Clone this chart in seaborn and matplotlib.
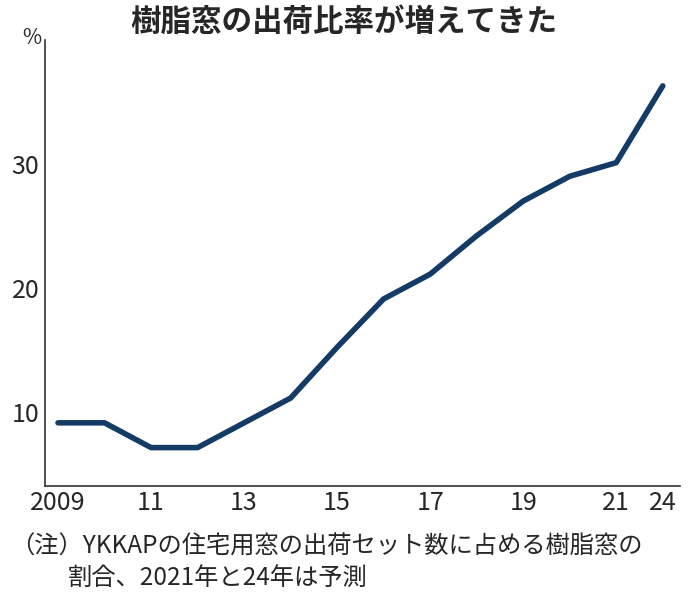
import matplotlib
matplotlib.use("Agg")
import matplotlib.pyplot as plt
import seaborn as sns
import pandas as pd

years = ["2009","2010","2011","2012","2013","2014","2015","2016","2017","2018","2019","2020","2021","24"]
share = [9.1, 9.1, 7.1, 7.1, 9.1, 11.1, 15.2, 19.1, 21.1, 24.2, 27.0, 29.0, 30.1, 36.3]
tick_labels = ["2009","","11","","13","","15","","17","","19","","21","24"]

sns.set_theme(style="white")
plt.rcParams['font.family'] = ['Noto Sans CJK JP', 'DejaVu Sans']

df = pd.DataFrame({"x": range(len(years)), "y": share})
fig = plt.figure(figsize=(6.96, 6.0), dpi=100)
ax = fig.add_axes([45/696, 1-486/600, (680-45)/696, (486-40)/600])
sns.lineplot(data=df, x="x", y="y", ax=ax, color="#143a66", linewidth=4)
ax.set_xlim(-0.28, 13.37)
ax.set_ylim(4.0, 40)
ax.set_xticks(range(len(years)))
ax.set_xticklabels(tick_labels, fontsize=18)
ax.set_yticks([10, 20, 30])
ax.set_yticklabels(["10", "20", "30"], fontsize=18)
ax.tick_params(axis="both", direction="in", length=5, width=1, color="#333333", pad=3)
ax.tick_params(axis="y", pad=4)
for s in ["top", "right"]:
    ax.spines[s].set_visible(False)
for s in ["left", "bottom"]:
    ax.spines[s].set_color("#333333")
    ax.spines[s].set_linewidth(1.2)
ax.set_xlabel("")
ax.set_ylabel("")
fig.text(344/696, 1-22/600, "樹脂窓の出荷比率が増えてきた", ha="center", va="center", fontsize=22, fontweight="bold")
fig.text(22/696, 1-38/600, "%", ha="left", va="center", fontsize=15)
fig.text(10/696, 1-547/600, "（注）YKKAPの住宅用窓の出荷セット数に占める樹脂窓の", ha="left", va="center", fontsize=17.5)
fig.text(68/696, 1-578/600, "割合、2021年と24年は予測", ha="left", va="center", fontsize=17.5)
fig.savefig("out.png", dpi=100)
